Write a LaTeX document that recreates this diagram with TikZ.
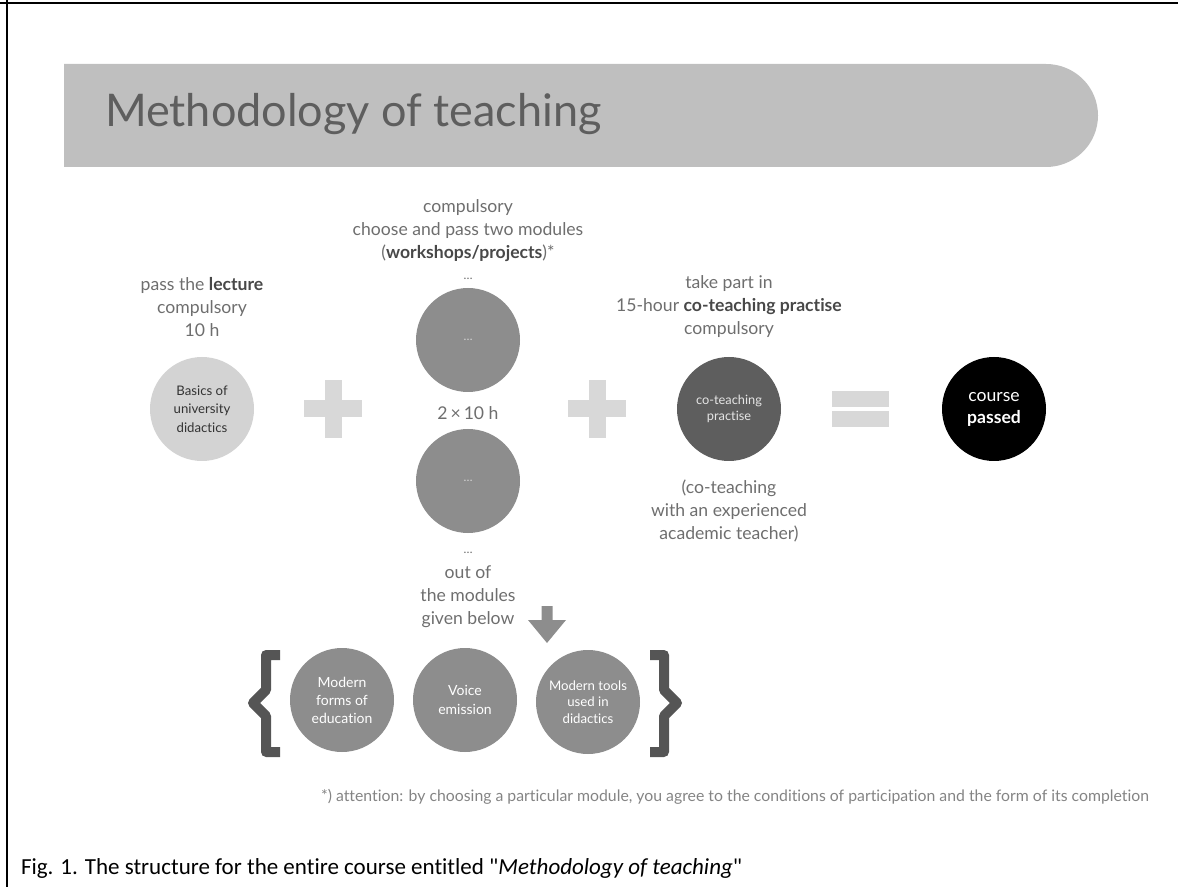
\documentclass[tikz,border=0pt]{standalone}
\usepackage{fontspec}
\setmainfont{Lato}[Ligatures={NoCommon}]
\newfontfamily\capfont{Carlito}[Ligatures={NoCommon}]
\definecolor{bannergray}{HTML}{BFBFBF}
\definecolor{titlegray}{HTML}{5E5E5E}
\definecolor{textgray}{HTML}{6E6E6E}
\definecolor{boldgray}{HTML}{484848}
\definecolor{lightfill}{HTML}{D3D3D3}
\definecolor{midfill}{HTML}{8D8D8D}
\definecolor{darkfill}{HTML}{5E5E5E}
\definecolor{signgray}{HTML}{D8D8D8}
\definecolor{bracegray}{HTML}{555555}

\begin{document}
\begin{tikzpicture}[x=0.5pt,y=-0.5pt]
  \useasboundingbox (0,0) rectangle (1178,887);

  \tikzstyle{Module}=[circle,minimum size=52pt,inner sep=0pt,align=center]
  \tikzstyle{Label}=[align=center,text=textgray,font=\fontsize{8.8}{11.5}\selectfont]
  \tikzstyle{Sign}=[signgray]
  %\tikzstyle{Brace}=[bracegray,line width=4pt]
  \tikzstyle{Brace}=[draw=bracegray,line width=5pt,line join=round]

  \draw[line width=1pt] (0,3) -- (1178,3);
  \draw[line width=1pt] (7,0) -- (7,887);

  \fill[bannergray] (64,64) -- (1046,64) to[out=0,in=90] (1098,115.5)
    to[out=-90,in=0] (1046,167) -- (64,167) -- cycle;
  \node[anchor=west,text=titlegray,font=\fontsize{22.5}{27}\selectfont] (title) at (98,114) {Methodology of teaching};

  \node[Label] (lecture) at (202,307) {pass the \textbf{\color{boldgray}lecture}\\compulsory\\10 h};
  \node[Module,fill=lightfill,text=black!80,font=\fontsize{6.6}{9.3}\selectfont] (basics) at (202,409) {Basics of\\university\\didactics};

  \node[Label] (choose) at (468,231) {compulsory\\choose and pass two modules\\(\textbf{\color{boldgray}workshops/projects})*};
  \node[Label,font=\fontsize{6}{7}\selectfont] (dotsA) at (468,279) {\dots};
  \node[Module,fill=midfill,text=lightfill,font=\fontsize{6}{7}\selectfont] (ws1) at (468,340) {\dots};
  \node[Label] (hours) at (468,413) {2\,×\,10 h};
  \node[Module,fill=midfill,text=lightfill,font=\fontsize{6}{7}\selectfont] (ws2) at (468,481) {\dots};
  \node[Label,font=\fontsize{6}{7}\selectfont] (dotsB) at (468,553) {\dots};
  \node[Label] (outof) at (468,597) {out of\\the modules\\given below};

  \node[Label] (take) at (729,307) {take part in\\15-hour \textbf{\color{boldgray}co-teaching practise}\\compulsory};
  \node[Module,fill=darkfill,text=white!90!black,font=\fontsize{6.4}{8}\selectfont] (cot) at (729,409) {co-teaching\\practise};
  \node[Label] (with) at (729,511) {(co-teaching\\with an experienced\\academic teacher)};

  \node[Module,fill=black,text=white,font=\fontsize{8.8}{11}\selectfont] (pass) at (994,409) {course\\\textbf{passed}};

  \fill[Sign] (304,400.5) rectangle (362,417.5);
  \fill[Sign] (324.5,380) rectangle (341.5,438);
  \fill[Sign] (568,400.5) rectangle (626,417.5);
  \fill[Sign] (588.5,380) rectangle (605.5,438);
  \fill[Sign] (831.5,391) rectangle (888.5,407);
  \fill[Sign] (831.5,411) rectangle (888.5,427);

  \fill[midfill] (541.5,606) -- (552.5,606) -- (552.5,620) -- (566,620) -- (547,643)
    -- (528,620) -- (541.5,620) -- cycle;

  \node[Module,fill=midfill,text=white,font=\fontsize{7}{9}\selectfont] (m1) at (342,700) {Modern\\forms of\\education};
  \node[Module,fill=midfill,text=white,font=\fontsize{7}{9.5}\selectfont] (m2) at (465,700) {Voice\\emission};
  \node[Module,fill=midfill,text=white,font=\fontsize{6.6}{8.4}\selectfont] (m3) at (588,702) {Modern tools\\used in\\didactics};

  \draw[Brace] (280,655) -- (266,655) -- (266,690) -- (253,703) -- (266,716) -- (266,752) -- (280,752);
  \draw[Brace] (650,655) -- (664,655) -- (664,690) -- (677,703) -- (664,716) -- (664,752) -- (650,752);

  \node[text=textgray!85,font=\fontsize{7.9}{9}\selectfont] (note) at (735,797) {*) attention: by choosing a particular module, you agree to the conditions of participation and the form of its completion};
  \node[anchor=west,font=\capfont\fontsize{11.5}{13}\selectfont] (caption) at (14,868) {Fig. 1. The structure for the entire course entitled "\textit{Methodology of teaching}"};

\end{tikzpicture}
\end{document}
